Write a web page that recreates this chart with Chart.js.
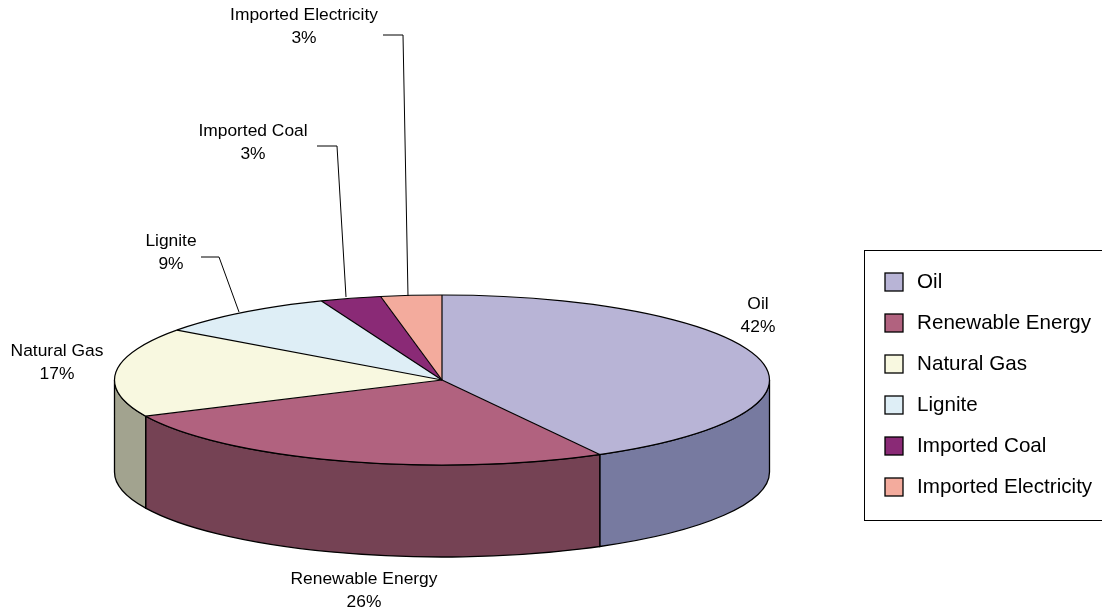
<!DOCTYPE html>
<html>
<head>
<meta charset="utf-8">
<script src="https://cdn.jsdelivr.net/npm/chart.js@4"></script>
<style>html,body{margin:0;padding:0;background:#fff}#w{width:1102px;height:614px}</style>
</head>
<body>
<div id="w"><canvas id="c" width="1102" height="614"></canvas></div>
<script>
const categories = ['Oil','Renewable Energy','Natural Gas','Lignite','Imported Coal','Imported Electricity'];
const shares = [42,26,17,9,3,3];
const topColors = ['#B8B4D6','#B1627F','#F8F8E0','#DEEEF6','#8A2A76','#F3AB9D'];
const wallColors = ['#777AA0','#754254','#A2A38F','#6F777B','#45153B','#79554E'];
// label centre x, first line y
const labelSpots = [[758,304],[364,579],[57,351],[171,241],[253,131],[304,15]];
const leaders = [
  null, null, null,
  [[201,257],[219,257],[239,312]],
  [[317,146],[337,146],[346,297]],
  [[383,35],[403,35],[408,296]]
];
const cx = 442, cy = 380, rx = 327.5, ry = 85, depth = 92;
const FONT = '"Liberation Sans", Arial, sans-serif';

function swatch(color) {
  const c = document.createElement('canvas');
  c.width = 20; c.height = 20;
  const g = c.getContext('2d');
  g.fillStyle = color;
  g.fillRect(1, 1, 18, 18);
  g.strokeStyle = '#000';
  g.lineWidth = 1.3;
  g.strokeRect(1, 1, 18, 18);
  return c;
}

const pie3d = {
  id: 'pie3d',
  afterLayout(chart) {
    const l = chart.legend;
    l.left = 860.85; l.right = 1200; l.top = 251.3; l.bottom = 800; l.width = 339; l.height = 549;
  },
  beforeDatasetsDraw(chart) {
    const ctx = chart.ctx;
    const arcs = chart.getDatasetMeta(0).data;
    ctx.save();
    ctx.lineWidth = 1.3;
    ctx.strokeStyle = '#000';
    arcs.forEach((a, i) => {
      const s = Math.max(a.startAngle, 0), e = Math.min(a.endAngle, Math.PI);
      if (e <= s) return;
      ctx.beginPath();
      ctx.ellipse(cx, cy, rx, ry, 0, s, e);
      ctx.ellipse(cx, cy + depth, rx, ry, 0, e, s, true);
      ctx.closePath();
      ctx.fillStyle = wallColors[i];
      ctx.fill();
      ctx.stroke();
    });
    ctx.restore();
    ctx.save();
    const a0 = arcs[0];
    ctx.translate(cx, cy);
    ctx.scale(rx / a0.outerRadius, ry / a0.outerRadius);
    ctx.translate(-a0.x, -a0.y);
  },
  afterDatasetsDraw(chart) {
    const ctx = chart.ctx;
    ctx.restore();
    ctx.save();
    ctx.strokeStyle = '#000';
    ctx.lineWidth = 1.2;
    ctx.beginPath();
    ctx.ellipse(cx, cy, rx, ry, 0, 0, Math.PI * 2);
    ctx.stroke();
    chart.getDatasetMeta(0).data.forEach(a => {
      ctx.beginPath();
      ctx.moveTo(cx, cy);
      ctx.lineTo(cx + rx * Math.cos(a.startAngle), cy + ry * Math.sin(a.startAngle));
      ctx.stroke();
    });
    // legend frame
    ctx.lineWidth = 1;
    ctx.strokeRect(864.5, 250.5, 240, 270);
    // leader lines
    leaders.forEach(pts => {
      if (!pts) return;
      ctx.beginPath();
      pts.forEach((p, k) => k ? ctx.lineTo(p[0], p[1]) : ctx.moveTo(p[0], p[1]));
      ctx.stroke();
    });
    // data labels
    ctx.fillStyle = '#000';
    ctx.font = '17.4px ' + FONT;
    ctx.textAlign = 'center';
    ctx.textBaseline = 'middle';
    categories.forEach((name, i) => {
      const [x, y] = labelSpots[i];
      ctx.fillText(name, x, y);
      ctx.fillText(shares[i] + '%', x, y + 23);
    });
    ctx.restore();
  }
};

new Chart(document.getElementById('c'), {
  type: 'pie',
  data: {
    labels: categories,
    datasets: [{
      data: shares,
      backgroundColor: topColors,
      borderColor: '#000',
      borderWidth: 0,
      clip: false
    }]
  },
  options: {
    responsive: false,
    animation: false,
    devicePixelRatio: 1,
    radius: 200,
    layout: { padding: 0 },
    plugins: {
      tooltip: { enabled: false },
      legend: {
        display: true,
        position: 'right',
        align: 'start',
        labels: {
          usePointStyle: true,
          pointStyleWidth: 25.5,
          boxHeight: 20,
          padding: 20.4,
          color: '#000',
          font: { family: FONT, size: 20.6 },
          generateLabels() {
            return categories.map((t, i) => ({
              text: t, fillStyle: topColors[i], strokeStyle: '#000', lineWidth: 1.3,
              pointStyle: swatch(topColors[i]), index: i, fontColor: '#000'
            }));
          }
        }
      }
    }
  },
  plugins: [pie3d]
});
</script>
</body>
</html>
